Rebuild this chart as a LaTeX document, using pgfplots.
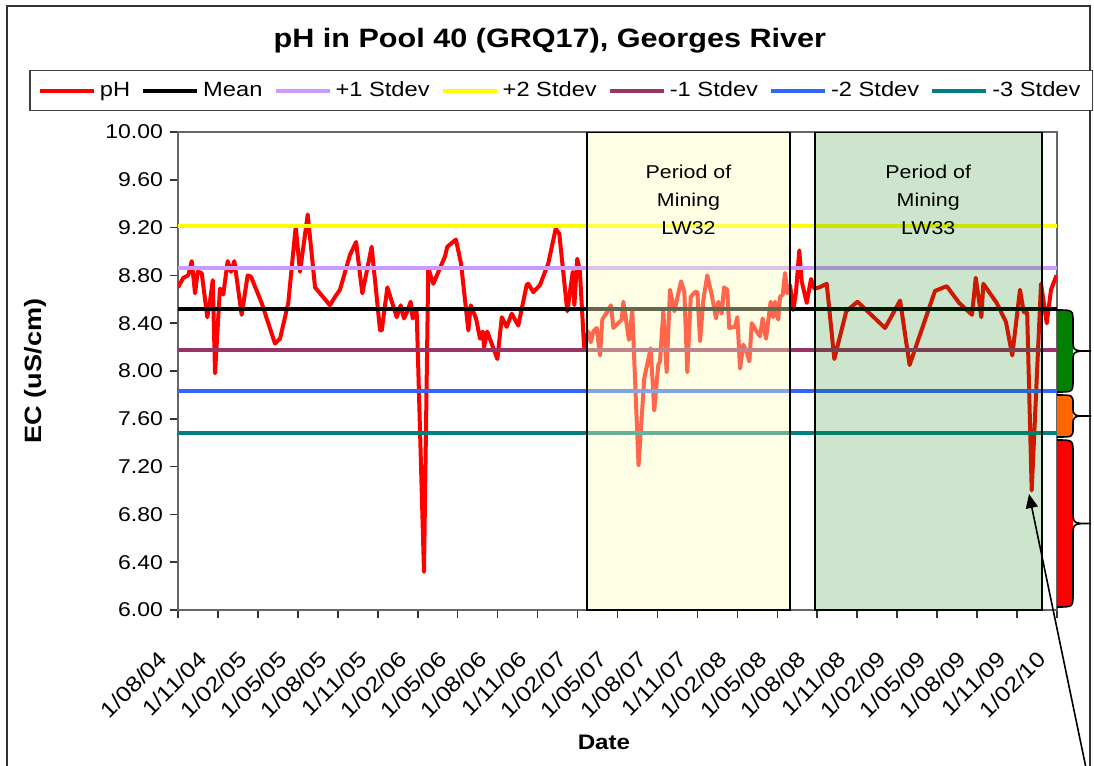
\documentclass[border=0pt]{standalone}
\usepackage{pgfplots}
\pgfplotsset{compat=1.18}
\usepackage{fontspec}
\setmainfont{Liberation Sans}[FakeStretch=1.15]
\usetikzlibrary{arrows.meta}

\definecolor{sdplusone}{HTML}{CC99FF}
\definecolor{sdplustwo}{HTML}{FFFF00}
\definecolor{sdminusone}{HTML}{993366}
\definecolor{sdminustwo}{HTML}{3366FF}
\definecolor{sdminusthree}{HTML}{008080}
\definecolor{lwyellow}{HTML}{FFFFC0}
\definecolor{lwgreen}{HTML}{008000}
\definecolor{bandorange}{HTML}{FF6600}

% coloured band with a curly brace, px units (y down)
\newcommand{\band}[4]{%
  \fill[#1] (1057,#2) .. controls (1073,#2) .. (1073,#2+#4) -- (1073,#3-#4) .. controls (1073,#3) .. (1057,#3) -- cycle;
  \draw[black, line width=0.8pt] (1057,#2) .. controls (1073,#2) .. (1073,#2+#4)
    -- (1073,{(#2+#3)/2-#4}) .. controls (1073,{(#2+#3)/2}) .. (1091,{(#2+#3)/2})
    .. controls (1073,{(#2+#3)/2}) .. (1073,{(#2+#3)/2+#4})
    -- (1073,#3-#4) .. controls (1073,#3) .. (1057,#3);
}

\begin{document}
\begin{tikzpicture}
\useasboundingbox (0pt,0pt) rectangle (547pt,-383pt);
\begin{scope}[x=0.5pt,y=-0.5pt]
  \fill[white] (0,0) rectangle (1094,766);
  \draw[black!80, line width=1pt] (7,6) rectangle (1090,800);
\end{scope}

\begin{axis}[
    at={(89pt,-305pt)}, anchor=south west,
    scale only axis,
    width=439.5pt, height=239pt,
    xmin=0, xmax=66,
    ymin=6, ymax=10,
    xtick={0,3,...,66},
    xticklabels={1/08/04,1/11/04,1/02/05,1/05/05,1/08/05,1/11/05,1/02/06,1/05/06,1/08/06,1/11/06,1/02/07,1/05/07,1/08/07,1/11/07,1/02/08,1/05/08,1/08/08,1/11/08,1/02/09,1/05/09,1/08/09,1/11/09,1/02/10},
    ytick={6,6.4,6.8,7.2,7.6,8,8.4,8.8,9.2,9.6,10},
    yticklabel style={font=\fontsize{10}{12}\selectfont, /pgf/number format/.cd, fixed, fixed zerofill, precision=2},
    /pgf/number format/assume math mode=true,
    xticklabel style={xshift=-5pt, rotate=45, anchor=east, font=\fontsize{10.8}{12}\selectfont},
    xticklabel shift=16pt,
    xtick pos=left, ytick pos=left,
    tick align=outside,
    major tick length=4pt,
    tick style={black!80, line width=0.8pt},
    axis line style={black!60, line width=0.9pt},
    title={pH in Pool 40 (GRQ17), Georges River},
    title style={at={(axis description cs:0.423,1.167)}, anchor=center, font=\bfseries\fontsize{13.3}{15}\selectfont},
    xlabel={Date},
    xlabel style={at={(axis description cs:0.4846,-0.276)}, anchor=center, font=\bfseries\fontsize{10.5}{12}\selectfont},
    ylabel={EC (uS/cm)},
    ylabel style={at={(axis description cs:-0.162,0.5)}, anchor=center, font=\bfseries\fontsize{11.8}{13}\selectfont},
    legend columns=7,
    legend style={at={(axis description cs:0.436,1.0868)}, anchor=center,
        draw=black!75, line width=0.8pt, font=\fontsize{10.3}{12}\selectfont,
        inner xsep=4pt, inner ysep=3.5pt,
        nodes={inner xsep=2pt},
        /tikz/every even column/.append style={column sep=3.5pt}},
    legend image code/.code={\draw[#1, line width=2pt] (0pt,0pt) -- (27pt,0pt);},
]

\addplot[red, line width=2pt, line join=round, no markers] coordinates {
(0,8.70) (0.40,8.78) (0.77,8.80) (1.03,8.92) (1.28,8.65) (1.48,8.83) (1.78,8.82)
(2.20,8.45) (2.40,8.58) (2.61,8.76) (2.78,7.98) (3.15,8.69) (3.40,8.64) (3.73,8.92)
(3.98,8.83) (4.23,8.92) (4.78,8.47) (5.23,8.80) (5.48,8.79) (6.28,8.57) (7.28,8.23)
(7.66,8.27) (8.28,8.57) (8.84,9.21) (9.16,8.83) (9.74,9.31) (10.29,8.70) (11.41,8.55)
(11.79,8.62) (12.16,8.68) (12.91,8.97) (13.37,9.08) (13.84,8.65) (14.54,9.04) (15.17,8.34)
(15.30,8.34) (15.72,8.70) (16.42,8.45) (16.72,8.55) (16.97,8.44) (17.22,8.50) (17.47,8.58)
(17.62,8.44) (17.92,8.50) (18.47,6.32) (18.79,8.86) (19.17,8.73) (20.05,8.96) (20.22,9.04)
(20.87,9.10) (21.25,8.90) (21.80,8.34) (21.98,8.55) (22.38,8.44) (22.68,8.27) (22.88,8.33)
(22.98,8.20) (23.22,8.33) (23.98,8.10) (24.31,8.45) (24.68,8.37) (25.06,8.48) (25.55,8.38)
(26.18,8.72) (26.30,8.73) (26.68,8.66) (27.18,8.72) (27.80,8.90) (28.36,9.19) (28.63,9.15)
(29.23,8.50) (29.64,8.83) (29.76,8.55) (29.98,8.94) (30.18,8.83) (30.49,8.20) (30.81,8.33)
(30.99,8.24) (31.18,8.33) (31.44,8.36) (31.69,8.13) (31.86,8.43) (32.51,8.55) (32.69,8.36)
(33.32,8.43) (33.44,8.58) (33.86,8.26) (34.11,8.50) (34.58,7.21) (35.01,7.94) (35.49,8.19)
(35.76,7.67) (36.06,8.05) (36.19,8.08) (36.44,8.50) (36.69,7.99) (36.94,8.68) (37.27,8.50)
(37.77,8.75) (38.02,8.66) (38.24,7.99) (38.50,8.62) (38.82,8.66) (39.00,8.66) (39.20,8.25)
(39.44,8.59) (39.74,8.80) (40.07,8.64) (40.40,8.44) (40.57,8.58) (40.82,8.48) (41.00,8.70)
(41.24,8.68) (41.39,8.36) (41.82,8.37) (42.00,8.45) (42.20,8.02) (42.45,8.22) (42.70,8.16)
(42.90,8.08) (43.08,8.40) (43.40,8.34) (43.70,8.29) (43.90,8.44) (44.15,8.27) (44.50,8.58)
(44.70,8.45) (44.83,8.58) (45.07,8.43) (45.20,8.62) (45.41,8.64) (45.58,8.82) (45.75,8.65)
(45.95,8.72) (46.20,8.51) (46.40,8.66) (46.65,9.01) (46.83,8.75) (47.21,8.57) (47.53,8.77)
(47.78,8.69) (48.15,8.70) (48.71,8.73) (49.28,8.10) (50.18,8.50) (51.02,8.58) (53.09,8.36)
(54.22,8.59) (54.93,8.05) (56.84,8.67) (57.72,8.71) (58.65,8.57) (59.62,8.47) (59.90,8.78)
(60.32,8.45) (60.47,8.73) (61.47,8.57) (62.17,8.41) (62.64,8.13) (63.22,8.68) (63.51,8.49)
(63.76,8.49) (64.10,7.00) (64.80,8.73) (65.23,8.40) (65.55,8.68) (65.96,8.80)
};
\addlegendentry{pH}
\addplot[black, line width=2pt] coordinates {(0,8.52) (66,8.52)};
\addlegendentry{Mean}
\addplot[sdplusone, line width=2pt] coordinates {(0,8.865) (66,8.865)};
\addlegendentry{+1 Stdev}
\addplot[sdplustwo, line width=2pt] coordinates {(0,9.21) (66,9.21)};
\addlegendentry{+2 Stdev}
\addplot[sdminusone, line width=2pt] coordinates {(0,8.175) (66,8.175)};
\addlegendentry{-1 Stdev}
\addplot[sdminustwo, line width=2pt] coordinates {(0,7.83) (66,7.83)};
\addlegendentry{-2 Stdev}
\addplot[sdminusthree, line width=2pt] coordinates {(0,7.485) (66,7.485)};
\addlegendentry{-3 Stdev}

% mining periods
\fill[lwyellow, fill opacity=0.4] (axis cs:30.72,6) rectangle (axis cs:45.95,10);
\draw[black, line width=1pt] (axis cs:30.72,6) rectangle (axis cs:45.95,10);
\fill[lwgreen, fill opacity=0.2] (axis cs:47.83,6) rectangle (axis cs:64.84,10);
\draw[black, line width=1pt] (axis cs:47.83,6) rectangle (axis cs:64.84,10);
\node[align=center, font=\fontsize{9.3}{14}\selectfont] at (axis cs:38.33,9.43) {Period of\\Mining\\LW32};
\node[align=center, font=\fontsize{9.3}{14}\selectfont] at (axis cs:56.33,9.43) {Period of\\Mining\\LW33};
\end{axis}

\begin{scope}[x=0.5pt,y=-0.5pt]
  \band{lwgreen}{310}{392}{12}
  \band{bandorange}{395}{437}{9}
  \band{red}{440}{607}{13}
  \draw[-{Triangle[length=7pt,width=6pt]}, line width=0.8pt] (1088.5,780) -- (1029,494);
\end{scope}
\end{tikzpicture}
\end{document}
